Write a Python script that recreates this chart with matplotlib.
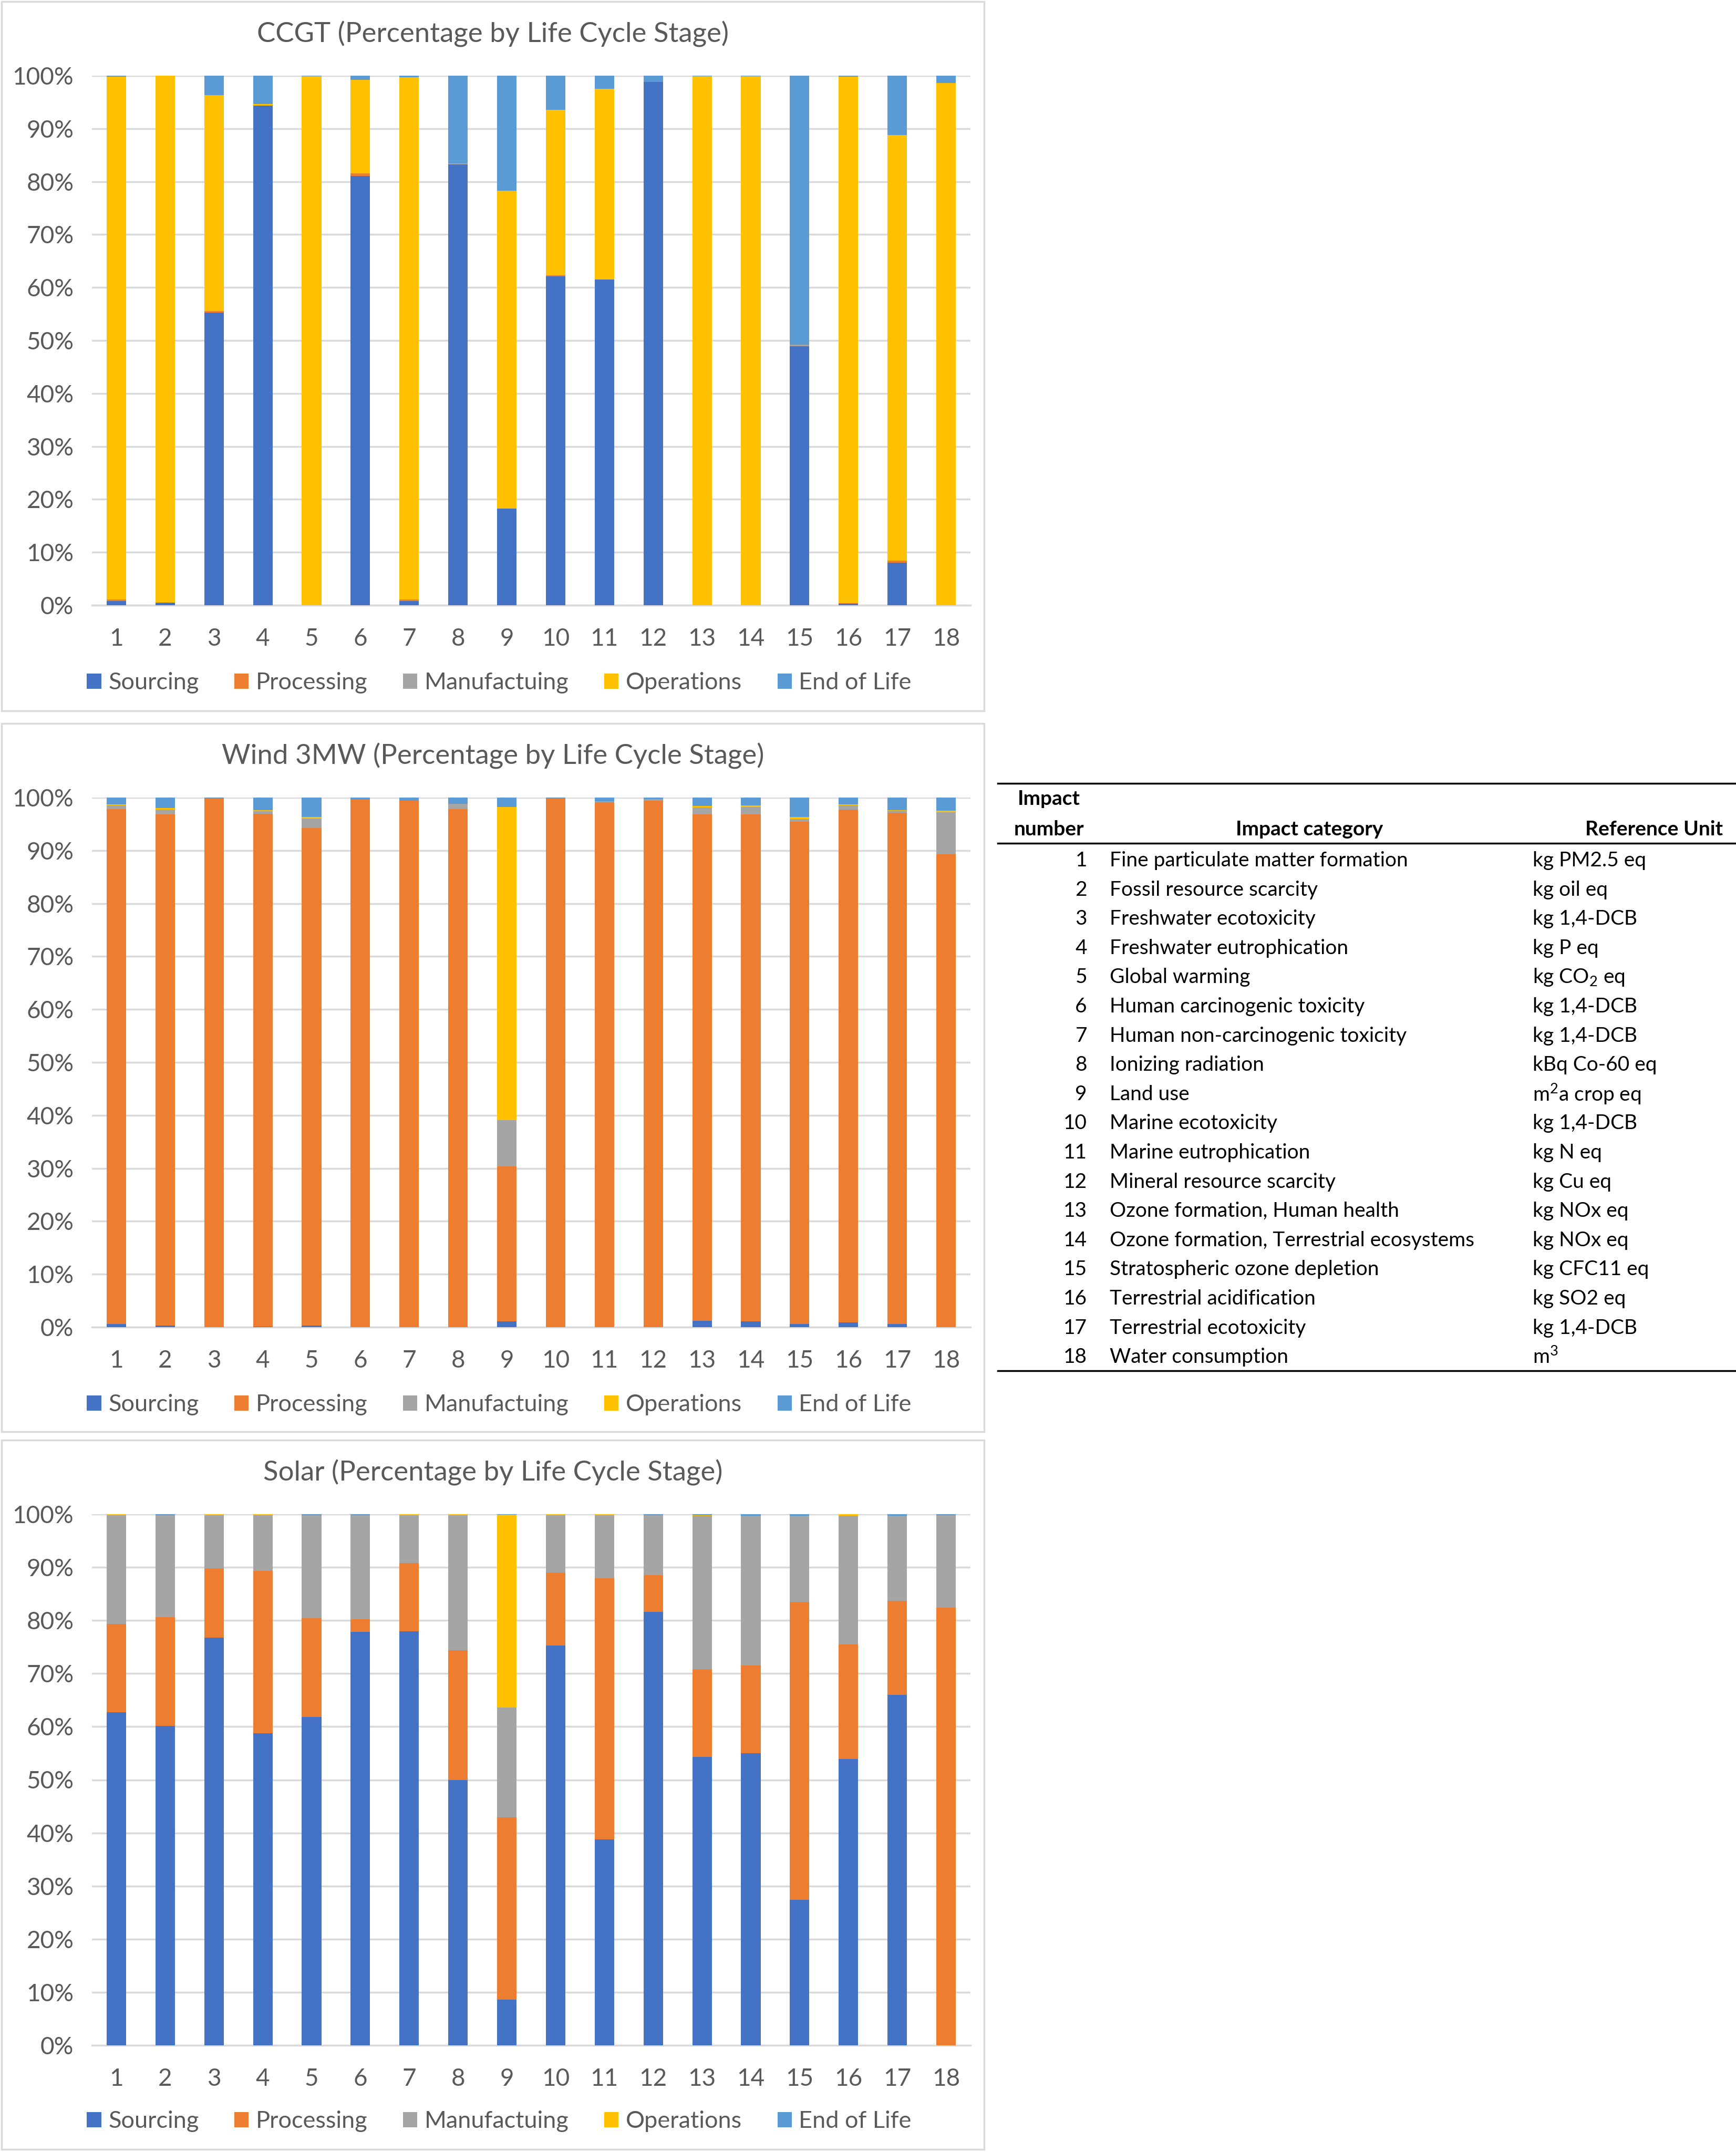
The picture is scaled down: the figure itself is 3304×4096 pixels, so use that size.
import matplotlib
matplotlib.use("Agg")
import matplotlib.pyplot as plt
import numpy as np
from matplotlib.patches import Rectangle
from matplotlib.lines import Line2D
from matplotlib.ticker import FuncFormatter

plt.rcParams["font.family"] = ["Lato", "DejaVu Sans"]
plt.rcParams["mathtext.fontset"] = "custom"
plt.rcParams["mathtext.rm"] = "Lato"

# ---- data (percent of total per impact category) ----
impact_numbers = [str(i) for i in range(1, 19)]
stages = ["Sourcing", "Processing", "Manufactuing", "Operations", "End of Life"]
stage_colors = ["#4472C4", "#ED7D31", "#A5A5A5", "#FFC000", "#5B9BD5"]

ccgt_sourcing = [0.8, 0.5, 55.3, 94.3, 0, 81.1, 0.8, 83.2, 18.3, 62.1, 61.5, 98.8, 0, 0, 48.9, 0.3, 8.0, 0]
ccgt_processing = [0.3, 0, 0.3, 0, 0, 0.4, 0.3, 0, 0, 0.2, 0, 0, 0, 0, 0, 0.1, 0.4, 0]
ccgt_manufacturing = [0, 0, 0, 0, 0, 0, 0, 0.2, 0, 0, 0, 0, 0, 0, 0.3, 0, 0, 0]
ccgt_operations = [98.7, 99.5, 40.7, 0.3, 99.9, 17.7, 98.6, 0, 60.0, 31.3, 36.0, 0, 99.9, 99.9, 0, 99.4, 80.4, 98.6]
ccgt_end_of_life = [0.2, 0, 3.7, 5.4, 0.1, 0.8, 0.3, 16.6, 21.7, 6.4, 2.5, 1.2, 0.1, 0.1, 50.8, 0.2, 11.2, 1.4]

wind_sourcing = [0.6, 0.3, 0, 0.1, 0.3, 0, 0, 0, 1.1, 0, 0, 0, 1.2, 1.1, 0.6, 0.9, 0.6, 0]
wind_processing = [97.2, 96.5, 99.8, 96.8, 93.9, 99.7, 99.4, 97.8, 29.3, 99.8, 99.1, 99.4, 95.6, 95.7, 94.8, 96.8, 96.5, 89.3]
wind_manufacturing = [0.7, 0.9, 0, 0.5, 1.8, 0, 0, 1.0, 8.7, 0, 0.2, 0.3, 1.3, 1.4, 0.5, 0.8, 0.4, 7.9]
wind_operations = [0.2, 0.3, 0, 0.2, 0.3, 0, 0, 0, 59.1, 0, 0, 0, 0.3, 0.3, 0.4, 0.2, 0.1, 0.3]
wind_end_of_life = [1.3, 2.0, 0.2, 2.4, 3.7, 0.3, 0.6, 1.2, 1.8, 0.2, 0.7, 0.3, 1.6, 1.5, 3.7, 1.3, 2.4, 2.5]

solar_sourcing = [62.7, 60.1, 76.8, 58.8, 61.8, 77.8, 77.9, 50.0, 8.6, 75.3, 38.8, 81.6, 54.3, 55.0, 27.4, 53.9, 66.0, 0]
solar_processing = [16.6, 20.5, 13.0, 30.5, 18.6, 2.4, 12.9, 24.4, 34.3, 13.7, 49.1, 6.9, 16.5, 16.5, 56.1, 21.6, 17.7, 82.4]
solar_manufacturing = [20.5, 19.2, 10.0, 10.5, 19.4, 19.6, 9.0, 25.4, 20.7, 10.8, 11.9, 11.3, 28.9, 28.2, 16.2, 24.2, 16.0, 17.4]
solar_operations = [0.2, 0, 0.2, 0.2, 0, 0, 0.2, 0.2, 36.3, 0.2, 0.2, 0, 0.1, 0, 0, 0.3, 0, 0]
solar_end_of_life = [0, 0.2, 0, 0, 0.2, 0.2, 0, 0, 0.1, 0, 0, 0.2, 0.2, 0.3, 0.3, 0, 0.3, 0.2]

chart_titles = [
    "CCGT (Percentage by Life Cycle Stage)",
    "Wind 3MW (Percentage by Life Cycle Stage)",
    "Solar (Percentage by Life Cycle Stage)",
]
chart_series = [
    [ccgt_sourcing, ccgt_processing, ccgt_manufacturing, ccgt_operations, ccgt_end_of_life],
    [wind_sourcing, wind_processing, wind_manufacturing, wind_operations, wind_end_of_life],
    [solar_sourcing, solar_processing, solar_manufacturing, solar_operations, solar_end_of_life],
]

impact_categories = [
    "Fine particulate matter formation",
    "Fossil resource scarcity",
    "Freshwater ecotoxicity",
    "Freshwater eutrophication",
    "Global warming",
    "Human carcinogenic toxicity",
    "Human non-carcinogenic toxicity",
    "Ionizing radiation",
    "Land use",
    "Marine ecotoxicity",
    "Marine eutrophication",
    "Mineral resource scarcity",
    "Ozone formation, Human health",
    "Ozone formation, Terrestrial ecosystems",
    "Stratospheric ozone depletion",
    "Terrestrial acidification",
    "Terrestrial ecotoxicity",
    "Water consumption",
]
reference_units = [
    "kg PM2.5 eq",
    "kg oil eq",
    "kg 1,4-DCB",
    "kg P eq",
    r"kg CO$_2$ eq",
    "kg 1,4-DCB",
    "kg 1,4-DCB",
    "kBq Co-60 eq",
    r"m$^2$a crop eq",
    "kg 1,4-DCB",
    "kg N eq",
    "kg Cu eq",
    "kg NOx eq",
    "kg NOx eq",
    "kg CFC11 eq",
    "kg SO2 eq",
    "kg 1,4-DCB",
    r"m$^3$",
]

# ---- figure ----
W, H = 3305, 4096
fig = plt.figure(figsize=(W / 100, H / 100), dpi=100)
text_grey = "#595959"
grid_grey = "#D9D9D9"

# panel boxes (pixel coords, top-down) and plot areas
panel_boxes = [(3, 3, 1873, 1353), (3, 1377, 1873, 2725), (3, 2741, 1873, 4091)]
plot_areas = [(175, 144, 1847, 1152), (175, 1518, 1847, 2526), (175, 2882, 1847, 3893)]


def fx(px):
    return px / W


def fy(py):
    return 1 - py / H


x = np.arange(len(impact_numbers))
for k in range(3):
    bx0, by0, bx1, by1 = panel_boxes[k]
    fig.patches.append(
        Rectangle((fx(bx0), fy(by1)), fx(bx1 - bx0), (by1 - by0) / H,
                  transform=fig.transFigure, fill=False, edgecolor=grid_grey, lw=2.5)
    )
    px0, py0, px1, py1 = plot_areas[k]
    ax = fig.add_axes([fx(px0), fy(py1), fx(px1 - px0), (py1 - py0) / H])
    bottom = np.zeros(len(x))
    for s in range(len(stages)):
        vals = np.array(chart_series[k][s])
        ax.bar(x, vals, bottom=bottom, width=0.4, color=stage_colors[s], label=stages[s], zorder=3)
        bottom += vals
    ax.set_xlim(-0.5, len(x) - 0.5)
    ax.set_ylim(0, 100)
    ax.set_yticks(np.arange(0, 101, 10))
    ax.yaxis.set_major_formatter(FuncFormatter(lambda v, p: f"{int(v)}%"))
    ax.set_xticks(x)
    ax.set_xticklabels(impact_numbers)
    ax.grid(axis="y", color=grid_grey, lw=2.5, zorder=0)
    for sp in ["top", "right", "left"]:
        ax.spines[sp].set_visible(False)
    ax.spines["bottom"].set_color(grid_grey)
    ax.spines["bottom"].set_linewidth(2.5)
    ax.tick_params(axis="both", length=0, labelsize=33, colors=text_grey)
    ax.tick_params(axis="x", pad=31)
    ax.tick_params(axis="y", pad=25)

    fig.text(fx((bx0 + bx1) / 2), fy(by0 + 62), chart_titles[k], ha="center", va="center",
             fontsize=38, color=text_grey)
    handles, labels = ax.get_legend_handles_labels()
    fig.legend(handles, labels, loc="center", bbox_to_anchor=(fx(950), fy(by0 + 1297)),
               ncol=5, frameon=False, fontsize=32.5, labelcolor=text_grey,
               handlelength=0.6, handleheight=0.6, handletextpad=0.3, columnspacing=1.5)

# ---- table ----
tbl_x0, tbl_x1 = 1899, 3305
for yy, lw in [(1491, 2.5), (1605, 2.5), (2609, 2.5)]:
    fig.add_artist(Line2D([fx(tbl_x0), fx(tbl_x1)], [fy(yy), fy(yy)], transform=fig.transFigure,
                          color="black", lw=lw))
fs_tbl = 28
fig.text(fx(1996), fy(1521), "Impact", ha="center", va="center", fontsize=fs_tbl, fontweight="bold")
fig.text(fx(1996), fy(1578), "number", ha="center", va="center", fontsize=fs_tbl, fontweight="bold")
fig.text(fx(2492), fy(1578), "Impact category", ha="center", va="center", fontsize=fs_tbl, fontweight="bold")
fig.text(fx(3279), fy(1578), "Reference Unit", ha="right", va="center", fontsize=fs_tbl, fontweight="bold")
for i in range(len(impact_categories)):
    yy = 1638 + i * 55.6
    fig.text(fx(2069), fy(yy), impact_numbers[i], ha="right", va="center", fontsize=fs_tbl)
    fig.text(fx(2112), fy(yy), impact_categories[i], ha="left", va="center", fontsize=fs_tbl)
    fig.text(fx(2917), fy(yy), reference_units[i], ha="left", va="center", fontsize=fs_tbl)

fig.savefig("out.png", dpi=100, facecolor="white")
